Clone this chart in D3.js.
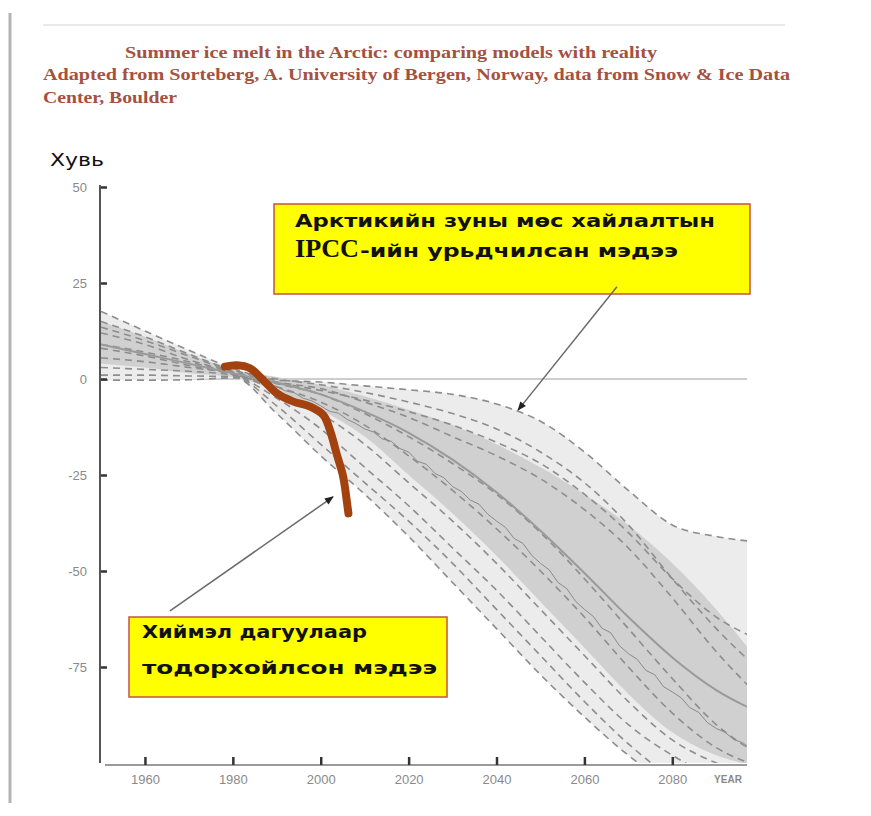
<!DOCTYPE html>
<html>
<head>
<meta charset="utf-8">
<script src="https://cdn.jsdelivr.net/npm/d3@7"></script>
<style>
  body { margin: 0; background: #fff; }
  svg { display: block; }
</style>
</head>
<body>
<svg id="chart" width="871" height="816"></svg>
<script>
// ---- Data -------------------------------------------------------------
// Model projection grid (years) and change in September sea-ice extent (%)
const years = [1950, 1960, 1970, 1980, 1990, 2000, 2010, 2020, 2030, 2040, 2050, 2060, 2070, 2080, 2090, 2100];

// full model spread (lightest shading)
const envelopeTop    = [17.6, 12.5, 7.5, 2.8, -0.3, -0.8, -1.8, -2.8, -4.0, -6.5, -11, -19, -29, -38, -41, -42.5];
const envelopeBottom = [-0.3, -0.3, -0.2, 0.3, -9, -20, -30, -41, -53, -65, -77, -88, -98, -106, -112, -116];

// central spread (darker shading)
const spreadTop    = [15, 11, 6.5, 2.5, 0.5, -1.5, -4.5, -8, -12, -17, -23, -30, -38, -48, -60, -74];
const spreadBottom = [4, 3, 1.5, 0.5, -3, -8, -15, -25, -35, -46, -58, -70, -82, -92, -98, -101];

// ensemble mean (smooth solid line)
const ensembleMean = [9, 6.5, 4, 1.5, -1, -4, -8.5, -14, -21, -29.5, -39.5, -50.5, -62, -72.5, -81, -87];

// individual model runs (dashed)
const runA = [17.6, 12.5, 7.5, 2.8, -0.3, -0.8, -1.8, -2.8, -4.0, -6.5, -11, -19, -29, -38, -41, -42.5];
const runB = [15, 11, 6.5, 2.3, 0, -1.5, -3.5, -6, -9, -13, -19, -27, -38, -52, -65, -76];
const runC = [13.5, 10, 6, 2, -0.8, -2.5, -6, -10, -15, -20, -26, -34, -44, -57, -71, -83];
const runD = [12, 9, 5, 1.8, -1.2, -4, -9, -15, -22, -30, -40, -52, -65, -78, -90, -98];
const runE = [9, 7, 4.5, 1.5, -2, -6, -12, -20, -29, -39, -50, -62, -75, -87, -96, -101];
const runF = [8, 6, 3.5, 1.2, -3, -9, -17, -27, -37, -48, -60, -72, -84, -94, -100, -104];
const runG = [5.5, 4.5, 3, 1.2, -5, -13, -23, -33, -44, -55, -67, -79, -90, -98, -104, -108];
const runH = [3, 2.5, 2, 1, -7, -17, -27, -37, -48, -60, -72, -84, -95, -104, -110, -114];
const runI = [1, 1, 0.8, 0.6, -9, -20, -30, -41, -53, -65, -77, -88, -98, -106, -112, -116];
const runJ = [-0.3, -0.3, -0.2, 0.3, -1, -3, -5.5, -8.5, -12, -16.5, -22, -30, -40, -52, -62, -68];
const modelRuns = [runA, runB, runC, runD, runE, runF, runG, runH, runI, runJ];

// single-run trace (thin solid line), every two years
const traceYears = [1980, 1982, 1984, 1986, 1988, 1990, 1992, 1994, 1996, 1998,
  2000, 2002, 2004, 2006, 2008, 2010, 2012, 2014, 2016, 2018,
  2020, 2022, 2024, 2026, 2028, 2030, 2032, 2034, 2036, 2038,
  2040, 2042, 2044, 2046, 2048, 2050, 2052, 2054, 2056, 2058,
  2060, 2062, 2064, 2066, 2068, 2070, 2072, 2074, 2076, 2078,
  2080, 2082, 2084, 2086, 2088, 2090, 2092, 2094, 2096, 2098, 2100];
const traceValues = [1.0, 0.6, 0.1, -0.9, -1.2, -2.0, -3.1, -3.6, -5.0, -5.7,
  -7.0, -8.4, -8.9, -10.5, -11.6, -13.0, -13.8, -15.6, -16.2, -18.1,
  -19.0, -21.4, -22.2, -24.6, -25.7, -28.0, -29.3, -31.5, -32.6, -35.2,
  -37.0, -38.6, -41.5, -42.8, -45.9, -48.0, -49.7, -53.0, -54.6, -57.9,
  -60.0, -61.8, -64.9, -66.1, -69.5, -71.5, -73.0, -75.9, -77.0, -80.1,
  -81.5, -83.0, -85.6, -86.8, -89.5, -91.0, -92.0, -93.9, -94.7, -96.4, -97.0];

// satellite observations
const obsYears  = [1978.2, 1980.9, 1983.9, 1986.9, 1990.0, 1993.8, 1997.6, 2000.6, 2002.1, 2003.6, 2005.1, 2005.9, 2006.3];
const obsValues = [3.2, 3.6, 2.8, -0.3, -3.7, -5.9, -7.2, -9.4, -13.3, -19.4, -25.4, -31.5, -35.0];

// axes
const yTicks = [50, 25, 0, -25, -50, -75];
const xTicks = [1960, 1980, 2000, 2020, 2040, 2060, 2080];
const xDomain = [1950, 2097];
const yDomain = [-100, 50];

// texts
const titleLines = [
  "Summer ice melt in the Arctic: comparing models with reality",
  "Adapted from Sorteberg, A. University of Bergen, Norway, data from Snow & Ice Data",
  "Center, Boulder"
];
const yLabel = "Хувь";
const xLabel = "YEAR";
const ipccNoteLine1 = "Арктикийн зуны мөс хайлалтын";
const ipccNoteAcronym = "IPCC";
const ipccNoteLine2 = "-ийн урьдчилсан мэдээ";
const satNoteLine1 = "Хиймэл дагуулаар";
const satNoteLine2 = "тодорхойлсон мэдээ";

// arrow anchors in data units: [year, value]
const ipccArrow = { from: [2067.4, 24.0], to: [2044.9, -8.1] };
const satArrow  = { from: [1965.7, -60.4], to: [2002.8, -30.7] };

// ---- Drawing ----------------------------------------------------------
const svg = d3.select("#chart");
svg.append("rect").attr("width", 871).attr("height", 816).attr("fill", "#fff");

const x = d3.scaleLinear().domain(xDomain).range([101, 747]);
const y = d3.scaleLinear().domain(yDomain).range([763, 187]);

// page frame
svg.append("line").attr("x1", 10).attr("x2", 10).attr("y1", 13).attr("y2", 803)
  .attr("stroke", "#b3b3b3").attr("stroke-width", 3);
svg.append("line").attr("x1", 43).attr("x2", 785).attr("y1", 25).attr("y2", 25)
  .attr("stroke", "#e2e2e2").attr("stroke-width", 1.5);

// heading
const titleColor = "#a5513f";
const titleLayout = [
  { x: 125, y: 58, len: 532 },
  { x: 43, y: 80, len: 747 },
  { x: 43, y: 103, len: 134 }
];
titleLines.forEach((t, i) => {
  svg.append("text")
    .attr("x", titleLayout[i].x).attr("y", titleLayout[i].y)
    .attr("textLength", titleLayout[i].len).attr("lengthAdjust", "spacingAndGlyphs")
    .attr("font-family", "Liberation Serif, serif").attr("font-size", 16)
    .attr("font-weight", "bold")
    .attr("fill", titleColor).text(t);
});

// clip region for the plot
const defs = svg.append("defs");
defs.append("clipPath").attr("id", "plotClip").append("rect")
  .attr("x", x(xDomain[0])).attr("y", y(yDomain[1]))
  .attr("width", x(xDomain[1]) - x(xDomain[0]))
  .attr("height", y(yDomain[0]) - y(yDomain[1]));
defs.append("marker").attr("id", "head")
  .attr("viewBox", "0 0 10 10").attr("refX", 9).attr("refY", 5)
  .attr("markerWidth", 10).attr("markerHeight", 9)
  .attr("markerUnits", "userSpaceOnUse").attr("orient", "auto")
  .append("path").attr("d", "M0,1 L10,5 L0,9 Z").attr("fill", "#222");

const plot = svg.append("g").attr("clip-path", "url(#plotClip)");

// zero reference line
plot.append("line")
  .attr("x1", x(xDomain[0])).attr("x2", x(xDomain[1]))
  .attr("y1", y(0)).attr("y2", y(0))
  .attr("stroke", "#bdbdbd").attr("stroke-width", 1.6);

const band = (top, bottom) => d3.area()
  .x((d, i) => x(years[i]))
  .y0((d, i) => y(bottom[i]))
  .y1((d, i) => y(top[i]))
  .curve(d3.curveMonotoneX)(years);

plot.append("path").attr("d", band(envelopeTop, envelopeBottom)).attr("fill", "#ececec");
plot.append("path").attr("d", band(spreadTop, spreadBottom)).attr("fill", "#d0d0d0");

const seriesLine = d3.line()
  .x((d, i) => x(years[i]))
  .y(d => y(d))
  .curve(d3.curveMonotoneX);

plot.selectAll("path.run").data(modelRuns).join("path")
  .attr("class", "run")
  .attr("d", seriesLine)
  .attr("fill", "none").attr("stroke", "#8d8d8d")
  .attr("stroke-width", 1.6).attr("stroke-dasharray", "7,5");

plot.append("path").attr("d", seriesLine(ensembleMean))
  .attr("fill", "none").attr("stroke", "#9a9a9a").attr("stroke-width", 2);

plot.append("path")
  .attr("d", d3.line().x((d, i) => x(traceYears[i])).y(d => y(d))(traceValues))
  .attr("fill", "none").attr("stroke", "#8a8a8a").attr("stroke-width", 1);

// observations
svg.append("path")
  .attr("d", d3.line().x((d, i) => x(obsYears[i])).y(d => y(d)).curve(d3.curveCatmullRom.alpha(0.5))(obsValues))
  .attr("fill", "none").attr("stroke", "#a3420f").attr("stroke-width", 8)
  .attr("stroke-linecap", "round").attr("stroke-linejoin", "round");

// y axis
const tickFont = "Liberation Sans, Arial, sans-serif";
const yAxis = d3.axisLeft(y).tickValues(yTicks).tickFormat(d => String(d))
  .tickSizeInner(-7).tickSizeOuter(0).tickPadding(13);
const gy = svg.append("g").attr("transform", `translate(${x(xDomain[0]) - 1},0)`).call(yAxis);
gy.select(".domain").remove();
gy.selectAll(".tick line").attr("stroke", "#333").attr("stroke-width", 2.5);
gy.selectAll(".tick text").attr("fill", "#8a8a8a")
  .attr("font-family", tickFont).attr("font-size", 13);
gy.append("line").attr("x1", 0).attr("x2", 0)
  .attr("y1", y(yDomain[1]) - 2).attr("y2", y(yDomain[0]))
  .attr("stroke", "#555").attr("stroke-width", 2);

svg.append("text").attr("x", 50).attr("y", 166)
  .attr("textLength", 54).attr("lengthAdjust", "spacingAndGlyphs")
  .attr("font-family", "DejaVu Sans, sans-serif").attr("font-size", 18)
  .attr("fill", "#111").text(yLabel);

// x axis
const axisY = y(yDomain[0]) + 2;
const xAxis = d3.axisBottom(x).tickValues(xTicks).tickFormat(d => String(d))
  .tickSizeInner(-8).tickSizeOuter(0).tickPadding(10);
const gx = svg.append("g").attr("transform", `translate(0,${axisY})`).call(xAxis);
gx.select(".domain").remove();
gx.selectAll(".tick line").attr("stroke", "#333").attr("stroke-width", 2.5);
gx.selectAll(".tick text").attr("fill", "#8a8a8a")
  .attr("font-family", tickFont).attr("font-size", 13);
gx.insert("line", ":first-child").attr("x1", 105).attr("x2", x(xDomain[1]))
  .attr("y1", 0).attr("y2", 0).attr("stroke", "#9a9a9a").attr("stroke-width", 2);
gx.append("text").attr("x", 728).attr("y", 11).attr("dy", "0.71em")
  .attr("text-anchor", "middle").attr("fill", "#8a8a8a")
  .attr("font-family", tickFont).attr("font-size", 10)
  .attr("font-weight", "bold").text(xLabel);

// annotation boxes
function noteBox(bx, by, bw, bh) {
  svg.append("rect").attr("x", bx).attr("y", by).attr("width", bw).attr("height", bh)
    .attr("fill", "#ffff00").attr("stroke", "#c8504a").attr("stroke-width", 1.5);
}
function noteText(tx, ty, len, txt, opts = {}) {
  svg.append("text").attr("x", tx).attr("y", ty)
    .attr("textLength", len).attr("lengthAdjust", "spacingAndGlyphs")
    .attr("font-family", opts.family || "DejaVu Sans, sans-serif")
    .attr("font-size", opts.size || 18).attr("font-weight", "bold")
    .attr("fill", "#111").text(txt);
}

noteBox(274, 204, 476, 90);
noteText(295, 227, 420, ipccNoteLine1);
noteText(295, 257, 64, ipccNoteAcronym, { family: "Liberation Serif, serif", size: 25 });
noteText(360, 257, 318, ipccNoteLine2);

noteBox(129, 617, 318, 80);
noteText(142, 638, 225, satNoteLine1);
noteText(142, 674, 295, satNoteLine2);

// arrows
[ipccArrow, satArrow].forEach(a => {
  svg.append("line")
    .attr("x1", x(a.from[0])).attr("y1", y(a.from[1]))
    .attr("x2", x(a.to[0])).attr("y2", y(a.to[1]))
    .attr("stroke", "#6a6a6a").attr("stroke-width", 1.5)
    .attr("marker-end", "url(#head)");
});
</script>
</body>
</html>
